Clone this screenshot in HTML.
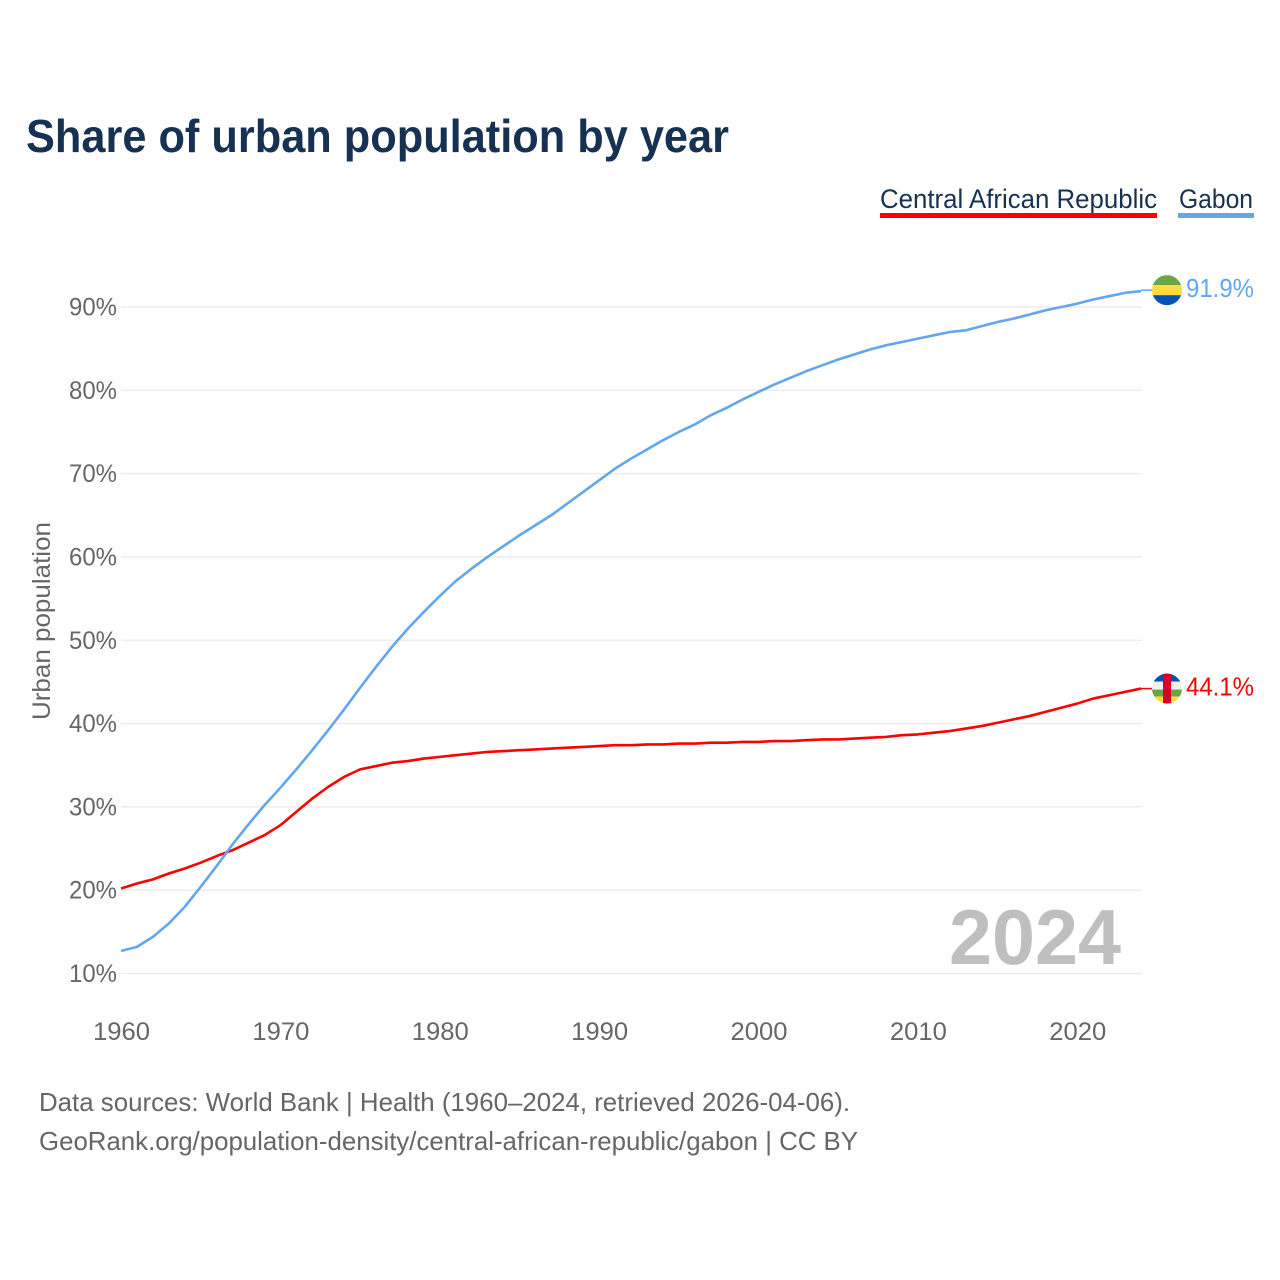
<!DOCTYPE html>
<html>
<head>
<meta charset="utf-8">
<style>
html,body{margin:0;padding:0;background:#fff}
svg{display:block}
text{font-family:"Liberation Sans",sans-serif}
</style>
</head>
<body>
<svg id="chart" width="1280" height="1280" viewBox="0 0 1280 1280" xmlns="http://www.w3.org/2000/svg">
<defs>
<clipPath id="clip-gabon"><circle id="clip-gabon-c" r="15"/></clipPath>
<clipPath id="clip-car"><circle id="clip-car-c" r="15"/></clipPath>
</defs>
<rect width="1280" height="1280" fill="#fff"/>
<text x="26" y="152" font-size="46" font-weight="700" fill="#173153" textLength="703" lengthAdjust="spacingAndGlyphs">Share of urban population by year</text>
<g>
<g>
<text x="880" y="208" font-size="27" fill="#173153" textLength="277" lengthAdjust="spacingAndGlyphs">Central African Republic</text>
<rect x="880" y="213" width="277" height="5" fill="#ff0000"/>
</g>
<g>
<text x="1179" y="208" font-size="27" fill="#173153" textLength="74" lengthAdjust="spacingAndGlyphs">Gabon</text>
<rect x="1178" y="213" width="76" height="5" fill="#62a6ee"/>
</g>
</g>
<g id="grid"></g>
<g id="yticks"></g>
<g id="xticks"></g>
<text transform="translate(50,720) rotate(-90)" font-size="25" fill="#666" textLength="198" lengthAdjust="spacingAndGlyphs">Urban population</text>
<text x="949" y="964" font-size="78" font-weight="700" fill="#bfbfbf" textLength="172" lengthAdjust="spacingAndGlyphs">2024</text>
<path id="line-car" fill="none" stroke="#ff0000" stroke-width="2.6" stroke-linejoin="round"/>
<path id="line-gabon" fill="none" stroke="#62a6ee" stroke-width="2.6" stroke-linejoin="round"/>
<line id="conn-car" stroke="#ff0000" stroke-width="1.5"/>
<line id="conn-gabon" stroke="#62a6ee" stroke-width="1.5"/>
<g id="flag-gabon" clip-path="url(#clip-gabon)">
<rect id="fg1" x="1152" width="30" height="10" fill="#6da544"/>
<rect id="fg2" x="1152" width="30" height="10" fill="#ffda44"/>
<rect id="fg3" x="1152" width="30" height="11" fill="#0052b4"/>
</g>
<g id="flag-car" clip-path="url(#clip-car)">
<rect id="fc1" x="1152" width="30" height="8" fill="#0052b4"/>
<rect id="fc2" x="1152" width="30" height="8" fill="#f0f0f0"/>
<rect id="fc3" x="1152" width="30" height="7" fill="#6da544"/>
<rect id="fc4" x="1152" width="30" height="8" fill="#ffda44"/>
<rect id="fc5" x="1163" width="8" height="30" fill="#d80027"/>
</g>
<text id="value-gabon" x="1186" font-size="26" fill="#62a6ee" textLength="68" lengthAdjust="spacingAndGlyphs"></text>
<text id="value-car" x="1186" font-size="26" fill="#ff0000" textLength="68" lengthAdjust="spacingAndGlyphs"></text>
<g>
<text x="39" y="1111" font-size="26" fill="#666" textLength="811" lengthAdjust="spacingAndGlyphs">Data sources: World Bank | Health (1960–2024, retrieved 2026-04-06).</text>
<text x="39" y="1150" font-size="26" fill="#666" textLength="819" lengthAdjust="spacingAndGlyphs">GeoRank.org/population-density/central-african-republic/gabon | CC BY</text>
</g>
</svg>
<script>
const years = [1960,1961,1962,1963,1964,1965,1966,1967,1968,1969,1970,1971,1972,1973,1974,1975,1976,1977,1978,1979,1980,1981,1982,1983,1984,1985,1986,1987,1988,1989,1990,1991,1992,1993,1994,1995,1996,1997,1998,1999,2000,2001,2002,2003,2004,2005,2006,2007,2008,2009,2010,2011,2012,2013,2014,2015,2016,2017,2018,2019,2020,2021,2022,2023,2024];
const carValues = [20.2,20.8,21.3,22.0,22.6,23.3,24.1,24.8,25.7,26.6,27.8,29.4,31.0,32.4,33.6,34.5,34.9,35.3,35.5,35.8,36.0,36.2,36.4,36.6,36.7,36.8,36.9,37.0,37.1,37.2,37.3,37.4,37.4,37.5,37.5,37.6,37.6,37.7,37.7,37.8,37.8,37.9,37.9,38.0,38.1,38.1,38.2,38.3,38.4,38.6,38.7,38.9,39.1,39.4,39.7,40.1,40.5,40.9,41.4,41.9,42.4,43.0,43.4,43.8,44.2];
const gabonValues = [12.7,13.2,14.4,16.0,18.0,20.4,22.9,25.5,27.9,30.2,32.3,34.5,36.8,39.2,41.7,44.3,46.8,49.2,51.4,53.4,55.3,57.1,58.6,60.0,61.3,62.6,63.8,65.0,66.4,67.8,69.2,70.6,71.8,72.9,74.0,75.0,75.9,77.0,77.9,78.9,79.8,80.7,81.5,82.3,83.0,83.7,84.3,84.9,85.4,85.8,86.2,86.6,87.0,87.2,87.7,88.2,88.6,89.1,89.6,90.0,90.4,90.9,91.3,91.7,91.9];
const yTickValues = [10,20,30,40,50,60,70,80,90];
const xTickValues = [1960,1970,1980,1990,2000,2010,2020];
const carEndLabel = "44.1%";
const gabonEndLabel = "91.9%";

const NS = "http://www.w3.org/2000/svg";
const xScale = function (year) { return 121 + (year - 1960) * (1141 - 121) / 64; };
const yScale = function (pct) { return 973.5 - (pct - 10) * (973.5 - 307) / 80; };

const grid = document.getElementById("grid");
const yTicks = document.getElementById("yticks");
const xTicks = document.getElementById("xticks");

yTickValues.forEach(function (v) {
  const l = document.createElementNS(NS, "line");
  
  
  l.setAttribute("x1", 121);
  l.setAttribute("x2", 1142);
  l.setAttribute("y1", yScale(v));
  l.setAttribute("y2", yScale(v));
  l.setAttribute("stroke", "#ebebeb");
  l.setAttribute("stroke-width", "1.3");
  grid.appendChild(l);
  const t = document.createElementNS(NS, "text");
  
  
  t.setAttribute("x", 69);
  t.setAttribute("y", yScale(v) + 8.5);
  t.setAttribute("font-size", "25");
  t.setAttribute("fill", "#666");
  t.setAttribute("textLength", "48");
  t.setAttribute("lengthAdjust", "spacingAndGlyphs");
  t.textContent = v + "%";
  yTicks.appendChild(t);
});

xTickValues.forEach(function (v) {
  const t = document.createElementNS(NS, "text");
  
  
  t.setAttribute("x", xScale(v) - 28);
  t.setAttribute("y", 1040);
  t.setAttribute("font-size", "25");
  t.setAttribute("fill", "#666");
  t.setAttribute("textLength", "57");
  t.setAttribute("lengthAdjust", "spacingAndGlyphs");
  t.textContent = v;
  xTicks.appendChild(t);
});

function linePath(vals) {
  return vals.map(function (v, i) {
    return (i ? "L" : "M") + xScale(years[i]).toFixed(2) + " " + yScale(v).toFixed(2);
  }).join(" ");
}
document.getElementById("line-car").setAttribute("d", linePath(carValues));
document.getElementById("line-gabon").setAttribute("d", linePath(gabonValues));

function placeEnd(vals, key, label, shift) {
  const last = vals[vals.length - 1];
  const y = yScale(last) + shift;
  const c = document.getElementById("conn-" + key);
  c.setAttribute("x1", 1141);
  c.setAttribute("x2", 1153);
  c.setAttribute("y1", y);
  c.setAttribute("y2", y);
  const t = document.getElementById("value-" + key);
  t.setAttribute("y", y + 7);
  t.textContent = label;
  const clip = document.getElementById("clip-" + key + "-c");
  clip.setAttribute("cx", 1167);
  clip.setAttribute("cy", y);
  return y;
}
const gy = placeEnd(gabonValues, "gabon", gabonEndLabel, -1);
const cy = placeEnd(carValues, "car", carEndLabel, 0);

document.getElementById("fg1").setAttribute("y", gy - 15);
document.getElementById("fg2").setAttribute("y", gy - 5);
document.getElementById("fg3").setAttribute("y", gy + 5);
document.getElementById("fc1").setAttribute("y", cy - 15);
document.getElementById("fc2").setAttribute("y", cy - 7);
document.getElementById("fc3").setAttribute("y", cy + 1);
document.getElementById("fc4").setAttribute("y", cy + 8);
document.getElementById("fc5").setAttribute("y", cy - 15);
</script>
</body>
</html>
